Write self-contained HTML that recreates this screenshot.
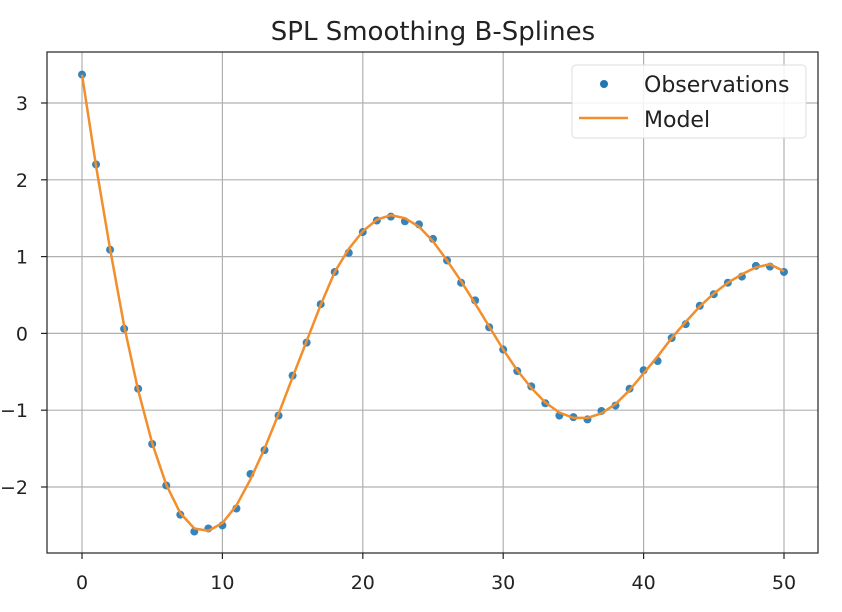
<!DOCTYPE html>
<html><head><meta charset="utf-8"><style>
body{margin:0;background:#fff;}
svg{display:block;font-family:"DejaVu Sans","Liberation Sans",sans-serif;}
</style></head><body>
<svg id="chart" width="842" height="612" viewBox="0 0 842 612">
<text x="433" y="40" text-anchor="middle" font-size="26" fill="#222">SPL Smoothing B-Splines</text>
<g id="grid"></g>
<g id="axes"></g>
<g id="series"></g>
<rect x="47" y="52" width="771" height="501" fill="none" stroke="#222" stroke-width="1.2"/>
<g>
<rect x="572" y="65" width="234" height="73" rx="4" fill="#fff" fill-opacity="0.85" stroke="#ddd"/>
<circle cx="604" cy="84" r="4" fill="#1f77b4"/>
<text x="644" y="92" font-size="22" fill="#222">Observations</text>
<line x1="579" y1="118" x2="628" y2="118" stroke="#f28e2b" stroke-width="2.5"/>
<text x="644" y="127" font-size="22" fill="#222">Model</text>
</g>
</svg>
<script>
const xTicks=[0,10,20,30,40,50];
const yTicks=[-2,-1,0,1,2,3];
const obsY=[3.37,2.2,1.09,0.06,-0.72,-1.44,-1.98,-2.36,-2.58,-2.54,-2.5,-2.28,-1.83,-1.52,-1.07,-0.55,-0.12,0.38,0.8,1.05,1.32,1.47,1.52,1.46,1.42,1.23,0.95,0.66,0.43,0.08,-0.21,-0.49,-0.69,-0.91,-1.07,-1.09,-1.12,-1.01,-0.94,-0.72,-0.48,-0.36,-0.06,0.12,0.36,0.51,0.66,0.74,0.88,0.87,0.8];
const modelY=[3.37,2.18,1.1,0.1,-0.74,-1.43,-1.97,-2.34,-2.54,-2.57,-2.47,-2.24,-1.9,-1.5,-1.05,-0.57,-0.1,0.37,0.8,1.1,1.33,1.48,1.54,1.5,1.39,1.2,0.95,0.68,0.39,0.09,-0.21,-0.48,-0.71,-0.9,-1.03,-1.1,-1.1,-1.04,-0.92,-0.74,-0.52,-0.3,-0.06,0.15,0.35,0.52,0.66,0.77,0.86,0.9,0.81];
const NS="http://www.w3.org/2000/svg";
const X0=82,X50=784,YT3=103,YTm2=487;
function xs(v){return X0+(X50-X0)*v/50;}
function ys(v){return YT3+(YTm2-YT3)*(3-v)/5;}
function mk(tag,attrs,parent){const e=document.createElementNS(NS,tag);for(const k in attrs)e.setAttribute(k,attrs[k]);parent.appendChild(e);return e;}
const grid=document.getElementById('grid'),axes=document.getElementById('axes'),series=document.getElementById('series');
xTicks.forEach(t=>{const x=xs(t);
 const g=mk('line',{x1:x,y1:52,x2:x,y2:553,stroke:'#b0b0b0','stroke-width':1.2},grid);
 
 
 const tk=mk('line',{x1:x,y1:553,x2:x,y2:559,stroke:'#222','stroke-width':1.2},axes);
 
 
 const l=mk('text',{x:x,y:589,'text-anchor':'middle','font-size':19,fill:'#222'},axes);l.textContent=t;
 
 
});
yTicks.forEach(t=>{const y=ys(t);
 const g=mk('line',{x1:47,y1:y,x2:818,y2:y,stroke:'#b0b0b0','stroke-width':1.2},grid);
 
 
 const tk=mk('line',{x1:41,y1:y,x2:47,y2:y,stroke:'#222','stroke-width':1.2},axes);
 
 
 const l=mk('text',{x:28,y:y+7,'text-anchor':'end','font-size':19,fill:'#222'},axes);l.textContent=(t<0?'\u2212'+(-t):t);
 
 
});
const p=mk('polyline',{points:modelY.map((v,i)=>xs(i)+','+ys(v)).join(' '),fill:'none',stroke:'#f28e2b','stroke-width':2.5,'stroke-linejoin':'round'},series);


obsY.forEach((v,i)=>{const c=mk('circle',{cx:xs(i),cy:ys(v),r:4,fill:'#1f77b4','fill-opacity':0.9},series);
 
 
});
series.appendChild(p);
</script>
</body></html>
